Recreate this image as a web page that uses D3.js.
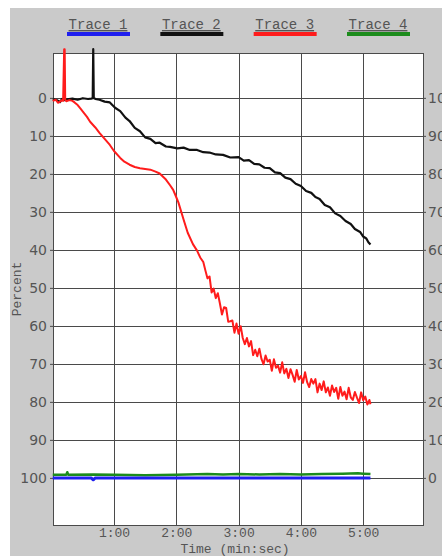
<!DOCTYPE html>
<html>
<head>
<meta charset="utf-8">
<script src="https://cdn.jsdelivr.net/npm/d3@7"></script>
<style>
  body { margin: 0; background: #fff; }
  svg { display: block; }
</style>
</head>
<body>
<div id="chart"></div>
<script>
// legend names and colours
var traceNames = ["Trace 1", "Trace 2", "Trace 3", "Trace 4"];
var traceColors = ["#1f1fef", "#111111", "#ff1c1c", "#1c8c1c"];

// y ticks (left = percent, right = 100 - percent)
var yTicks = [0, 10, 20, 30, 40, 50, 60, 70, 80, 90, 100];
// x ticks in seconds and their labels
var xTicks = [60, 120, 180, 240, 300];
var xTickLabels = ["1:00", "2:00", "3:00", "4:00", "5:00"];

// Trace 1 (blue) - time (s), percent
var trace1T = [1, 30, 38, 40, 42, 60, 150, 250, 307];
var trace1V = [100, 100, 100, 100.5, 100, 100, 100, 100, 100];

// Trace 2 (black)
var trace2T = [1, 5, 8, 10, 12, 15, 20, 25, 30, 35, 38, 39.5, 40, 40.5, 42, 46, 51, 56, 61, 66, 71, 75, 80, 85, 90, 95, 100, 104, 110, 114, 121, 127, 133, 140, 146, 152, 158, 165, 172, 180, 185, 190, 195, 200, 205, 210, 215, 220, 225, 230, 235, 240, 245, 250, 254, 258, 263, 268, 273, 278, 283, 288, 292, 297, 300, 303, 305, 307];
var trace2V = [0.4, 0.6, 1.1, 0.3, 0.6, 0.4, 0.2, 0.5, 0.1, 0.3, 0.2, 0.1, -12.8, 0, 0.3, 0.5, 1.0, 1.2, 2.6, 3.5, 5.2, 6.1, 7.9, 8.8, 10.4, 10.8, 11.9, 11.8, 12.8, 12.9, 13.3, 13.1, 13.7, 13.7, 14.3, 14.4, 14.9, 15.0, 15.7, 15.6, 16.5, 16.4, 17.4, 17.5, 18.4, 18.5, 19.6, 19.8, 21.0, 21.4, 22.6, 23.2, 24.5, 25.0, 26.1, 26.6, 28.2, 28.8, 30.4, 31.1, 32.4, 33.2, 34.5, 35.3, 36.5, 37.0, 38.0, 38.6];

// Trace 3 (red)
var trace3T = [1, 4, 6, 8, 10, 11, 12, 12.5, 13, 14, 17, 20, 22, 25, 27, 30, 34, 37, 42, 46, 51, 56, 60, 66, 70, 75, 80, 85, 90, 95, 100, 104, 110, 114, 117, 119, 122, 127, 131, 136, 140, 143, 146, 148,
  150, 152, 154, 156, 158, 160, 162, 164, 166, 168, 170, 172, 174, 176, 178, 180, 182, 184, 186, 188, 190, 192, 194, 196, 198, 200, 202, 204, 206, 208, 210, 212, 214, 216, 218, 220, 222, 224, 226, 228,
  230, 232, 234, 236, 238, 240, 242, 244, 246, 248, 250, 252, 254, 256, 258, 260, 262, 264, 266, 268, 270, 272, 274, 276, 278, 280, 282, 284, 286, 288, 290, 292, 294, 296, 298, 300, 302, 304, 306, 307];
var trace3V = [0.8, 0.5, 1.3, 1.0, 0.6, 0.8, -12.8, -12.8, 0.5, 0.9, 0.6, 0.8, 1.2, 1.9, 2.6, 3.6, 5.0, 6.3, 7.8, 9.2, 10.8, 12.4, 14.0, 15.8, 16.8, 17.6, 18.2, 18.5, 18.7, 18.9, 19.4, 19.9, 21.5, 23.0, 24.2, 25.5, 27.5, 32.0, 35.5, 38.5, 40.2, 42.0, 43.2, 45.4,
  47.5, 47.0, 51.2, 50.2, 52.7, 51.4, 54.1, 57.0, 55.1, 55.3, 58.9, 58.8, 58.6, 61.8, 59.4, 62.1, 60.1, 63.2, 64.8, 63.2, 65.4, 64.0, 67.7, 66.3, 68.0, 66.0, 68.7, 70.1, 67.8, 69.4, 68.9, 71.8, 68.8, 71.0, 70.5, 72.3, 69.6, 72.5, 71.3, 73.7,
  71.4, 72.9, 74.7, 71.6, 74.1, 73.2, 75.0, 72.2, 74.8, 76.1, 74.0, 75.2, 74.0, 77.5, 75.2, 76.9, 74.6, 77.5, 76.2, 78.4, 75.7, 77.4, 76.3, 79.2, 76.1, 78.4, 77.3, 79.3, 76.3, 78.8, 79.5, 77.4, 78.9, 80.3, 77.5, 79.6, 78.6, 80.7, 79.5, 80.6];

// Trace 4 (green)
var trace4T = [1, 14, 15, 16, 40, 60, 90, 120, 150, 165, 180, 200, 220, 240, 260, 280, 295, 300, 307];
var trace4V = [99.2, 99.2, 98.5, 99.2, 99.1, 99.2, 99.3, 99.2, 99.0, 99.1, 99.0, 99.1, 99.0, 99.1, 99.0, 98.9, 98.8, 98.9, 99.0];

var W = 442, H = 558;
var margin = { top: 53, right: 19, bottom: 33, left: 53 };

var svg = d3.select("#chart").append("svg").attr("width", W).attr("height", H);

// grey panel
svg.append("rect").attr("x", 10).attr("y", 8).attr("width", W - 10).attr("height", 548).attr("fill", "#cacaca");

var x = d3.scaleLinear().domain([1.25, 357.6]).range([margin.left, W - margin.right]);
var y = d3.scaleLinear().domain([-11.8, 112.4]).range([margin.top, H - margin.bottom]);
var yRight = d3.scaleLinear().domain([111.8, -12.4]).range([margin.top, H - margin.bottom]);

// plot area
svg.append("rect")
  .attr("x", margin.left).attr("y", margin.top)
  .attr("width", x.range()[1] - margin.left).attr("height", y.range()[1] - margin.top)
  .attr("fill", "#fff");

// grid
var grid = svg.append("g").attr("stroke", "#4a4a4a").attr("stroke-width", 1);
grid.selectAll(".gy").data(yTicks).join("line")
  .attr("x1", margin.left).attr("x2", x.range()[1])
  .attr("y1", (d) => Math.round(y(d)) + 0.5).attr("y2", (d) => Math.round(y(d)) + 0.5);
grid.selectAll(".gx").data(xTicks).join("line")
  .attr("y1", margin.top).attr("y2", y.range()[1])
  .attr("x1", (d) => Math.round(x(d)) + 0.5).attr("x2", (d) => Math.round(x(d)) + 0.5);
svg.append("rect")
  .attr("x", margin.left + 0.5).attr("y", margin.top + 0.5)
  .attr("width", x.range()[1] - margin.left).attr("height", y.range()[1] - margin.top)
  .attr("fill", "none").attr("stroke", "#4a4a4a");

// left axis
svg.append("g")
  .attr("transform", `translate(${margin.left},0)`)
  .call(d3.axisLeft(y).tickValues(yTicks).tickSize(3).tickPadding(3))
  .call((g) => g.select(".domain").remove())
  .call((g) => g.selectAll("line").attr("stroke", "#4a4a4a"))
  .call((g) => g.selectAll("text").attr("fill", "#555").attr("font-family", "DejaVu Sans").attr("font-size", 14));

// right axis (labels run off the edge, as in the original)
svg.append("g")
  .attr("transform", `translate(${x.range()[1]},0)`)
  .call(d3.axisRight(yRight).tickValues(yTicks).tickSize(3).tickPadding(2))
  .call((g) => g.select(".domain").remove())
  .call((g) => g.selectAll("line").attr("stroke", "#4a4a4a"))
  .call((g) => g.selectAll("text").attr("fill", "#555").attr("font-family", "DejaVu Sans").attr("font-size", 14));

// bottom axis
svg.append("g")
  .attr("transform", `translate(0,${y.range()[1]})`)
  .call(d3.axisBottom(x).tickValues(xTicks).tickFormat((d, i) => xTickLabels[i]).tickSize(0).tickPadding(3))
  .call((g) => g.select(".domain").remove())
  .call((g) => g.selectAll("text").attr("fill", "#555").attr("font-family", "Liberation Mono").attr("font-size", 13));

svg.append("text")
  .attr("x", 235).attr("y", 553)
  .attr("text-anchor", "middle")
  .attr("font-family", "Liberation Mono").attr("font-size", 13).attr("fill", "#555")
  .text("Time (min:sec)");

svg.append("text")
  .attr("transform", "translate(21,289) rotate(-90)")
  .attr("text-anchor", "middle")
  .attr("font-family", "Liberation Mono").attr("font-size", 13).attr("fill", "#555")
  .text("Percent");

// traces
var line = d3.line().x((d) => x(d[0])).y((d) => y(d[1]));
var traces = [
  { T: trace1T, V: trace1V, w: 3 },
  { T: trace2T, V: trace2V, w: 2.2 },
  { T: trace3T, V: trace3V, w: 2 },
  { T: trace4T, V: trace4V, w: 2.5 },
];
// draw order: green, blue, black, red
[3, 0, 1, 2].forEach(function (i) {
  var tr = traces[i];
  svg.append("path")
    .datum(tr.T.map((t, j) => [t, tr.V[j]]))
    .attr("fill", "none")
    .attr("stroke", traceColors[i])
    .attr("stroke-width", tr.w)
    .attr("stroke-linejoin", "round")
    .attr("d", line);
});

// legend
var legendX = d3.scalePoint().domain(traceNames).range([98, 378]);
var legend = svg.append("g").selectAll("g").data(traceNames).join("g")
  .attr("transform", (d) => `translate(${legendX(d)},0)`);
legend.append("text")
  .attr("y", 29).attr("text-anchor", "middle")
  .attr("font-family", "Liberation Mono").attr("font-size", 14).attr("fill", "#555")
  .attr("text-decoration", "underline")
  .text((d) => d);
legend.append("rect")
  .attr("x", -31).attr("y", 32).attr("width", 63).attr("height", 4)
  .attr("fill", (d, i) => traceColors[i]);
</script>
</body>
</html>
